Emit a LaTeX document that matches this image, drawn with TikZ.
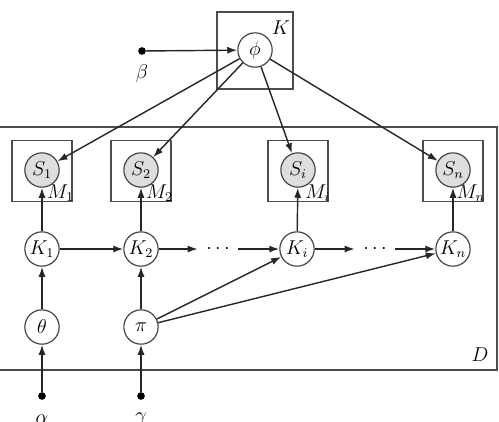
\documentclass[tikz,border=0pt]{standalone}
\usetikzlibrary{arrows.meta}
\begin{document}
\begin{tikzpicture}[x=0.6pt,y=-0.6pt,
  var/.style={circle,draw=black!75,line width=0.7pt,minimum size=20.6pt,inner sep=0pt,fill=white,font=\large},
  obs/.style={var,fill=black!13},
  plate/.style={draw=black!70,line width=0.75pt,rectangle,inner sep=0pt},
  hyper/.style={circle,fill=black,inner sep=0pt,minimum size=4.6pt},
  edge/.style={-{Latex[length=6pt,width=4.2pt]},line width=0.85pt,black!85},
  dotsn/.style={inner sep=5pt,font=\large},
  platelabel/.style={inner sep=0pt,font=\large}]
\useasboundingbox (0,0) rectangle (499,421);
% plates
\node[plate,minimum width=300pt,minimum height=145.8pt] (Dp) at (247,248.5) {};
\node[plate,minimum width=45.6pt,minimum height=46.2pt] (Kp) at (255,50.5) {};
\node[plate,minimum width=36pt,minimum height=36.6pt] (P1) at (42,171) {};
\node[plate,minimum width=36pt,minimum height=36.6pt] (P2) at (141,171) {};
\node[plate,minimum width=36pt,minimum height=36.6pt] (Pi) at (298,171) {};
\node[plate,minimum width=36pt,minimum height=36.6pt] (Pn) at (453,171) {};
\node[platelabel,anchor=south east,xshift=1pt] (M1) at (P1.south east) {$M_1$};
\node[platelabel,anchor=south east,xshift=1pt] (M2) at (P2.south east) {$M_2$};
\node[platelabel,anchor=south east,xshift=1pt] (Mi) at (Pi.south east) {$M_i$};
\node[platelabel,anchor=south east,xshift=1pt] (Mn) at (Pn.south east) {$M_n$};
\node[font=\large] (Klab) at (281,28) {$K$};
\node[font=\large] (Dlab) at (480,355) {$D$};
% nodes
\node[var] (phi) at (255,50) {$\phi$};
\node[hyper] (beta) at (142,51) {};
\node[font=\large] (betal) at (142,73) {$\beta$};
\node[obs] (S1) at (42,170) {$S_1$};
\node[obs] (S2) at (141,170) {$S_2$};
\node[obs] (Si) at (298,170) {$S_i$};
\node[obs] (Sn) at (453,170) {$S_n$};
\node[var] (K1) at (42,249) {$K_1$};
\node[var] (K2) at (141,249) {$K_2$};
\node[var] (Ki) at (297,249) {$K_i$};
\node[var] (Kn) at (453,249) {$K_n$};
\node[dotsn] (d1) at (218,249) {$\cdots$};
\node[dotsn] (d2) at (375,249) {$\cdots$};
\node[var] (theta) at (42,327) {$\theta$};
\node[var] (pi) at (141,327) {$\pi$};
\node[hyper] (alpha) at (42,396) {};
\node[hyper] (gamma) at (141,396) {};
\node[font=\large] (alphal) at (42,419) {$\alpha$};
\node[font=\large] (gammal) at (141,419) {$\gamma$};
% edges
\draw[edge] (beta) -- (phi);
\draw[edge] (phi) -- (S1);
\draw[edge] (phi) -- (S2);
\draw[edge] (phi) -- (Si);
\draw[edge] (phi) -- (Sn);
\draw[edge] (K1) -- (S1);
\draw[edge] (K2) -- (S2);
\draw[edge] (Ki) -- (Si);
\draw[edge] (Kn) -- (Sn);
\draw[edge] (K1) -- (K2);
\draw[edge] (K2) -- (d1);
\draw[edge] (d1) -- (Ki);
\draw[edge] (Ki) -- (d2);
\draw[edge] (d2) -- (Kn);
\draw[edge] (theta) -- (K1);
\draw[edge] (pi) -- (K2);
\draw[edge] (pi) -- (Ki);
\draw[edge] (pi) -- (Kn);
\draw[edge] (alpha) -- (theta);
\draw[edge] (gamma) -- (pi);
\end{tikzpicture}
\end{document}
